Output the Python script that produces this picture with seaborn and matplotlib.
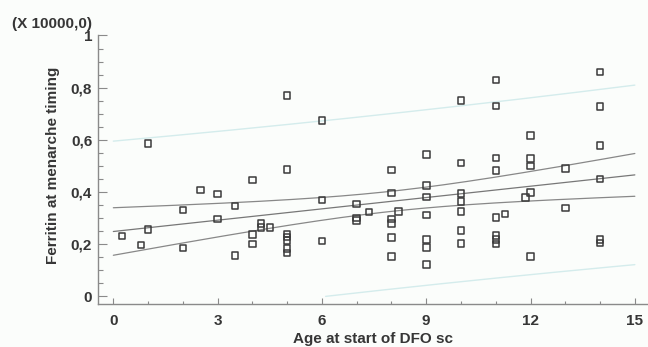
import matplotlib.pyplot as plt
import matplotlib.ticker as mticker
import numpy as np
import pandas as pd
import seaborn as sns

# Data (ferritin in units of 10000)
age = [0.25, 0.8, 1, 1, 2, 2, 2.5, 3, 3, 3.5, 3.5, 4, 4, 4, 4.25, 4.25, 4.5,
       5, 5, 5, 5, 5, 5, 5, 6, 6, 6, 7, 7, 7, 7.35,
       8, 8, 8, 8, 8, 8, 8.2,
       9, 9, 9, 9, 9, 9, 9,
       10, 10, 10, 10, 10, 10, 10,
       11, 11, 11, 11, 11, 11, 11, 11, 11.27, 11.85,
       12, 12, 12, 12, 12, 13, 13,
       14, 14, 14, 14, 14, 14]
ferritin = [0.232, 0.197, 0.587, 0.257, 0.331, 0.185, 0.408, 0.392, 0.296, 0.347, 0.156,
            0.446, 0.237, 0.201, 0.280, 0.265, 0.264,
            0.770, 0.486, 0.240, 0.228, 0.214, 0.184, 0.167,
            0.674, 0.370, 0.213, 0.354, 0.300, 0.292, 0.323,
            0.485, 0.397, 0.297, 0.279, 0.225, 0.153, 0.325,
            0.543, 0.425, 0.382, 0.312, 0.218, 0.188, 0.123,
            0.750, 0.511, 0.395, 0.363, 0.325, 0.252, 0.202,
            0.830, 0.730, 0.531, 0.482, 0.302, 0.233, 0.219, 0.201, 0.316, 0.379,
            0.616, 0.529, 0.499, 0.399, 0.153, 0.490, 0.339,
            0.860, 0.727, 0.578, 0.450, 0.219, 0.204]

x_ticks = [0, 3, 6, 9, 12, 15]
y_ticks = [0, 0.2, 0.4, 0.6, 0.8, 1.0]
y_tick_labels = ["0", "0,2", "0,4", "0,6", "0,8", "1"]

df = pd.DataFrame({"age": age, "ferritin": ferritin})

# Least squares fit with 95% confidence and prediction limits
n = len(df)
slope, intercept = np.polyfit(df["age"], df["ferritin"], 1)
resid = df["ferritin"] - (intercept + slope * df["age"])
s = np.sqrt((resid ** 2).sum() / (n - 2))
t = 1.993
x_mean = df["age"].mean()
sxx = ((df["age"] - x_mean) ** 2).sum()

xs = np.linspace(0, 15, 200)
fit = intercept + slope * xs
ci = t * s * np.sqrt(1 / n + (xs - x_mean) ** 2 / sxx)
pi = t * s * np.sqrt(1 + 1 / n + (xs - x_mean) ** 2 / sxx)
pi_low = np.where(fit - pi >= 0, fit - pi, np.nan)

sns.set_style("white")
plt.rcParams["font.family"] = ["Liberation Sans", "DejaVu Sans"]

text_col = "#363636"
axis_col = "#8a8a8a"
bg = "#fbfdfb"

fig = plt.figure(figsize=(6.48, 3.47), dpi=100, facecolor=bg)
ax = fig.add_axes([0.1508, 0.1239, 0.8492, 0.7738], facecolor=bg)

# prediction limits (faint)
ax.plot(xs, fit + pi, color="#d4ecec", lw=1.0, zorder=1)
ax.plot(xs, pi_low, color="#d4ecec", lw=1.0, zorder=1)
# fitted line and confidence limits
ax.plot(xs, fit, color="#777777", lw=0.9, zorder=2)
ax.plot(xs, fit + ci, color="#888888", lw=0.9, zorder=2)
ax.plot(xs, fit - ci, color="#888888", lw=0.9, zorder=2)

sns.scatterplot(data=df, x="age", y="ferritin", marker="s", s=22,
                facecolor="none", edgecolor="#3a3a3a", linewidth=1.1,
                ax=ax, zorder=3)

ax.set_xlim(-0.449, 15.378)
ax.set_ylim(-0.029, 1.0)

ax.set_xticks(x_ticks)
ax.set_xticklabels([str(v) for v in x_ticks])
ax.set_yticks(y_ticks)
ax.set_yticklabels(y_tick_labels)
ax.xaxis.set_minor_locator(mticker.MultipleLocator(1))
ax.yaxis.set_minor_locator(mticker.MultipleLocator(0.05))

ax.tick_params(axis="y", which="major", direction="in", length=6.5, width=0.8,
               color=axis_col, labelsize=11, labelcolor=text_col, pad=4)
ax.tick_params(axis="y", which="minor", direction="in", length=3.5, width=0.8,
               color=axis_col)
ax.tick_params(axis="x", which="major", direction="in", length=4, width=0.8,
               color=axis_col, labelsize=11, labelcolor=text_col, pad=7)
ax.tick_params(axis="x", which="minor", direction="in", length=2.5, width=0.8,
               color=axis_col)
ax.tick_params(left=True, bottom=True, which="both")
for lab in ax.get_xticklabels() + ax.get_yticklabels():
    lab.set_fontweight("bold")

for side in ["top", "right"]:
    ax.spines[side].set_visible(False)
for side in ["left", "bottom"]:
    ax.spines[side].set_color(axis_col)
    ax.spines[side].set_linewidth(1.0)

ax.set_xlabel("Age at start of DFO sc", fontsize=11, fontweight="bold", color=text_col)
ax.set_ylabel("Ferritin at menarche timing", fontsize=11, fontweight="bold", color=text_col)
ax.xaxis.label.set_va("center")
ax.yaxis.label.set_va("center")
ax.xaxis.set_label_coords(0.5, -0.13)
ax.yaxis.set_label_coords(-0.082, 0.515)

fig.text(0.0185, 0.932, "(X 10000,0)", fontsize=11, fontweight="bold",
         color=text_col, ha="left", va="center")

fig.savefig("out.png", dpi=100, facecolor=bg)
